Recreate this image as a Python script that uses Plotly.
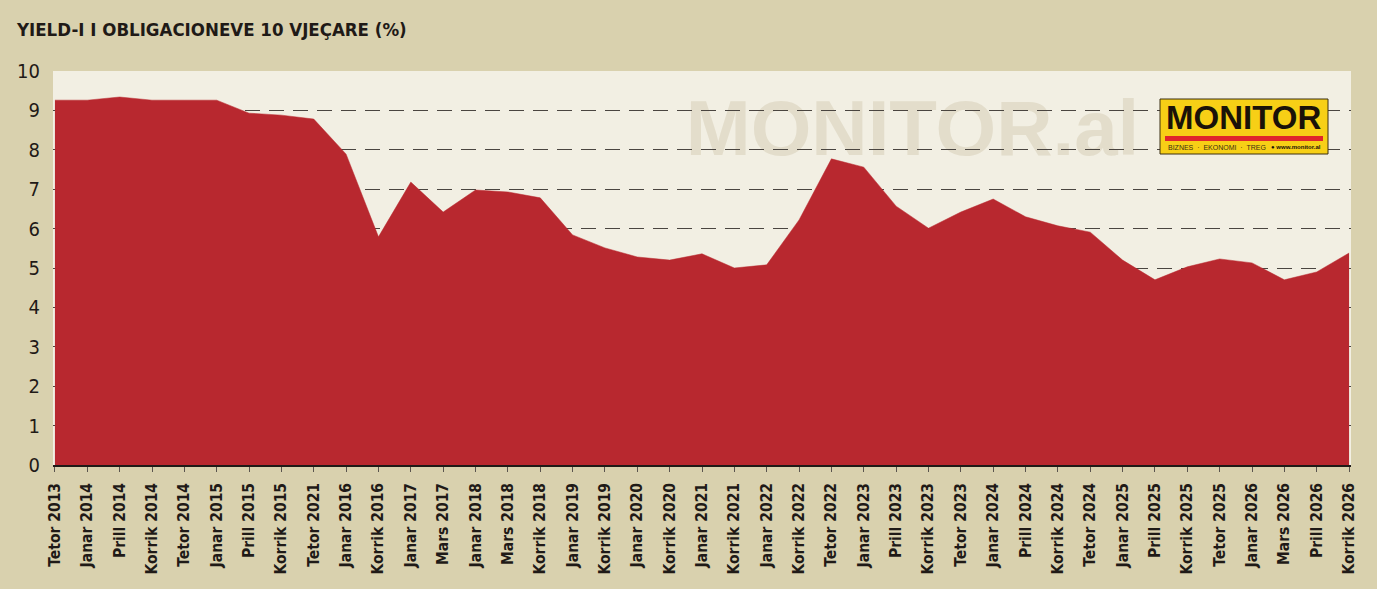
import plotly.graph_objects as go

# periudhat (etiketat e boshtit x)
periudhat = [
    "Tetor 2013", "Janar 2014", "Prill 2014", "Korrik 2014", "Tetor 2014",
    "Janar 2015", "Prill 2015", "Korrik 2015", "Tetor 2021", "Janar 2016",
    "Korrik 2016", "Janar 2017", "Mars 2017", "Janar 2018", "Mars 2018",
    "Korrik 2018", "Janar 2019", "Korrik 2019", "Janar 2020", "Korrik 2020",
    "Janar 2021", "Korrik 2021", "Janar 2022", "Korrik 2022", "Tetor 2022",
    "Janar 2023", "Prill 2023", "Korrik 2023", "Tetor 2023", "Janar 2024",
    "Prill 2024", "Korrik 2024", "Tetor 2024", "Janar 2025", "Prill 2025",
    "Korrik 2025", "Tetor 2025", "Janar 2026", "Mars 2026", "Prill 2026",
    "Korrik 2026",
]

# yield-i ne %
yield_10v = [
    9.26, 9.26, 9.34, 9.26, 9.26, 9.26, 8.93, 8.88, 8.78, 7.89,
    5.79, 7.18, 6.42, 6.98, 6.93, 6.78, 5.84, 5.51, 5.28, 5.20,
    5.36, 5.00, 5.08, 6.22, 7.77, 7.56, 6.57, 6.01, 6.42, 6.75,
    6.30, 6.07, 5.91, 5.20, 4.70, 5.03, 5.23, 5.13, 4.70, 4.90,
    5.38,
]

y_ticks = [0, 1, 2, 3, 4, 5, 6, 7, 8, 9, 10]

W, H = 1377, 589
ML, MR, MT, MB = 53, 26, 71, 124
PW, PH = W - ML - MR, H - MT - MB


def px(x):
    # piksel -> paper (horizontal)
    return (x - ML) / PW


def py(y):
    # piksel -> paper (vertical)
    return (H - MB - y) / PH


BG = "#d9d1ae"
CREAM = "#f2efe3"
RED = "#b8282f"
DARK = "#1f1a17"
NARROW = "DejaVu Sans Condensed, Roboto, sans-serif"

x_idx = list(range(len(periudhat)))

fig = go.Figure()

fig.add_trace(go.Scatter(
    x=x_idx,
    y=yield_10v,
    mode="lines",
    fill="tozeroy",
    fillcolor=RED,
    line=dict(color=RED, width=0.5),
    hoverinfo="x+y",
    showlegend=False,
))

# watermark poshte rrjetit
fig.add_shape(
    type="rect", xref="paper", yref="paper",
    x0=px(660), x1=px(1165), y0=py(157), y1=py(85),
    line=dict(width=0), fillcolor="rgba(0,0,0,0)", layer="below",
    label=dict(text="MONITOR.al", textposition="middle center",
               font=dict(family="Liberation Sans", size=78, color="#e3ddcb", weight="bold")),
)

# logo
fig.add_shape(
    type="rect", xref="paper", yref="paper",
    x0=px(1160), x1=px(1328), y0=py(154), y1=py(99),
    line=dict(color="#3b2f12", width=1), fillcolor="#f7cf16", layer="above",
)
fig.add_shape(
    type="rect", xref="paper", yref="paper",
    x0=px(1165), x1=px(1323), y0=py(141), y1=py(136),
    line=dict(width=0), fillcolor="#e0262b", layer="above",
)
fig.add_annotation(
    text="MONITOR", xref="paper", yref="paper",
    x=px(1243), y=py(118), xanchor="center", yanchor="middle", showarrow=False,
    font=dict(family="Liberation Sans", size=33, color="#1a1208", weight="bold"),
)
fig.add_annotation(
    text="BIZNES  ·  EKONOMI  ·  TREG", xref="paper", yref="paper",
    x=px(1166), y=py(147), xanchor="left", yanchor="middle", showarrow=False,
    font=dict(family="Liberation Sans", size=7, color="#3b2f12"),
)
fig.add_annotation(
    text="<b>● www.monitor.al</b>", xref="paper", yref="paper",
    x=px(1323), y=py(147), xanchor="right", yanchor="middle", showarrow=False,
    font=dict(family="Liberation Sans", size=6, color="#1a1208"),
)

# titulli
fig.add_annotation(
    text="YIELD-I I OBLIGACIONEVE 10 VJEÇARE (%)", xref="paper", yref="paper",
    x=px(14), y=py(29), xanchor="left", yanchor="middle", showarrow=False,
    font=dict(family=NARROW, size=18.5, color=DARK, weight="bold"),
)

fig.update_layout(
    width=W, height=H,
    margin=dict(l=ML, r=MR, t=MT, b=MB),
    paper_bgcolor=BG,
    plot_bgcolor=CREAM,
    showlegend=False,
)

fig.update_xaxes(
    range=[-0.06, len(periudhat) - 1 + 0.06],
    tickmode="array", tickvals=x_idx, ticktext=periudhat,
    tickangle=-90,
    tickfont=dict(family=NARROW, size=15.5, color=DARK, weight="bold"),
    ticks="outside", ticklen=5, tickcolor="#5a554f", tickwidth=1,
    ticklabelstandoff=5,
    showline=True, linecolor=DARK, linewidth=1.5,
    showgrid=False, zeroline=False,
)

fig.update_yaxes(
    range=[0, 10],
    tickmode="array", tickvals=y_ticks,
    tickfont=dict(family=NARROW, size=20, color=DARK),
    ticks="", ticklabelstandoff=12,
    showgrid=True, gridcolor="#4a4540", gridwidth=1.3, griddash="15px,9px",
    zeroline=False, showline=False,
)

# hiq margjinen e faqes
fig.write_html("out.html", config={"displayModeBar": False},
               post_script="document.body.style.margin='0';")
